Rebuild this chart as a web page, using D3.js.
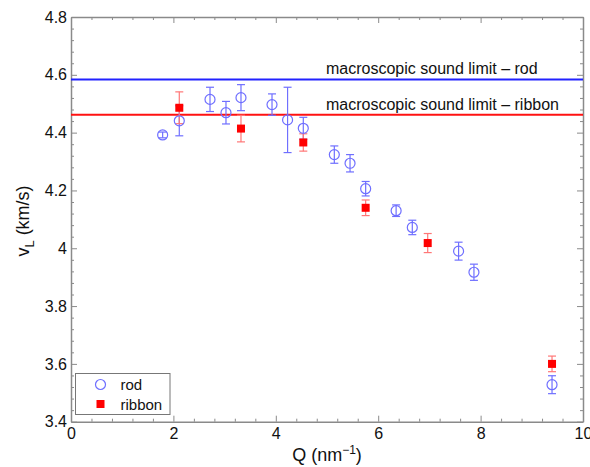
<!DOCTYPE html>
<html>
<head>
<meta charset="utf-8">
<script src="https://cdn.jsdelivr.net/npm/d3@7"></script>
<style>
  html, body { margin: 0; padding: 0; background: #fff; }
  svg { display: block; font-family: "Liberation Sans", Arial, Helvetica, sans-serif; }
</style>
</head>
<body>
<svg id="chart" width="590" height="467"></svg>
<script>
// Longitudinal sound velocity vs momentum transfer
const rodQ   = [1.79, 2.115, 2.715, 3.027, 3.32, 3.926, 4.23, 4.537, 5.143, 5.45, 5.755, 6.35, 6.666, 7.57, 7.87, 9.395];
const rodV   = [4.392, 4.441, 4.515, 4.469, 4.521, 4.497, 4.444, 4.415, 4.324, 4.294, 4.206, 4.130, 4.072, 3.990, 3.917, 3.528];
const rodErr = [0.010, 0.052, 0.042, 0.039, 0.045, 0.037, 0.113, 0.038, 0.030, 0.030, 0.025, 0.020, 0.025, 0.031, 0.028, 0.031];

const ribbonQ   = [2.115, 3.32, 4.537, 5.755, 6.967, 9.395];
const ribbonV   = [4.486, 4.414, 4.366, 4.140, 4.018, 3.600];
const ribbonErr = [0.055, 0.046, 0.030, 0.027, 0.033, 0.027];

const limitNames  = ["macroscopic sound limit \u2013 rod", "macroscopic sound limit \u2013 ribbon"];
const limitValues = [4.584, 4.462];

const xTicks = [0, 2, 4, 6, 8, 10];
const yTicks = [3.4, 3.6, 3.8, 4.0, 4.2, 4.4, 4.6, 4.8];
const legendNames = ["rod", "ribbon"];

const svg = d3.select("#chart");
const plotL = 71, plotR = 583, plotT = 17, plotB = 421.7;

const x = d3.scaleLinear().domain([0, 10]).range([plotL, plotR]);
const y = d3.scaleLinear().domain([3.4, 4.8]).range([plotB, plotT]);

const frameColor = "#8a8a8a";
const rodColor = "#6f6fff";
const ribbonColor = "#ff0000";
const ribbonErrColor = "#ff7777";

const xMinor = d3.range(0, 10.0001, 0.4).filter(v => Math.abs(v / 2 - Math.round(v / 2)) > 1e-6);
const yMinor = d3.range(3.4, 4.8001, 0.04).filter(v => Math.abs((v - 3.4) / 0.2 - Math.round((v - 3.4) / 0.2)) > 1e-6);

const fmt = d => String(+d.toFixed(1));

function styleAxis(g) {
  g.select(".domain").attr("stroke", frameColor).attr("stroke-width", 1.5);
  g.selectAll(".tick line").attr("stroke", frameColor).attr("stroke-width", 1);
  g.selectAll(".tick text").attr("fill", "#111").attr("font-size", 16)
    .attr("font-family", "Liberation Sans, Arial, sans-serif");
}
function styleMinor(g) {
  g.select(".domain").remove();
  g.selectAll(".tick line").attr("stroke", frameColor);
}

// Bottom axis, ticks pointing inward
svg.append("g").attr("transform", `translate(0,${plotB})`)
  .call(d3.axisBottom(x).tickValues(xTicks).tickFormat(fmt).tickSizeInner(-6).tickSizeOuter(0).tickPadding(6))
  .call(styleAxis);
svg.append("g").attr("transform", `translate(0,${plotB})`)
  .call(d3.axisBottom(x).tickValues(xMinor).tickFormat("").tickSizeInner(-3).tickSizeOuter(0))
  .call(styleMinor);

// Top axis
svg.append("g").attr("transform", `translate(0,${plotT})`)
  .call(d3.axisTop(x).tickValues(xTicks).tickFormat("").tickSizeInner(-6).tickSizeOuter(0))
  .call(styleAxis);
svg.append("g").attr("transform", `translate(0,${plotT})`)
  .call(d3.axisTop(x).tickValues(xMinor).tickFormat("").tickSizeInner(-3).tickSizeOuter(0))
  .call(styleMinor);

// Left axis
svg.append("g").attr("transform", `translate(${plotL},0)`)
  .call(d3.axisLeft(y).tickValues(yTicks).tickFormat(fmt).tickSizeInner(-6).tickSizeOuter(0).tickPadding(4))
  .call(styleAxis);
svg.append("g").attr("transform", `translate(${plotL},0)`)
  .call(d3.axisLeft(y).tickValues(yMinor).tickFormat("").tickSizeInner(-3).tickSizeOuter(0))
  .call(styleMinor);

// Right axis
svg.append("g").attr("transform", `translate(${plotR},0)`)
  .call(d3.axisRight(y).tickValues(yTicks).tickFormat("").tickSizeInner(-6).tickSizeOuter(0))
  .call(styleAxis);
svg.append("g").attr("transform", `translate(${plotR},0)`)
  .call(d3.axisRight(y).tickValues(yMinor).tickFormat("").tickSizeInner(-3).tickSizeOuter(0))
  .call(styleMinor);

// Axis titles
svg.append("text")
  .attr("x", x(5.0)).attr("y", 461)
  .attr("text-anchor", "middle").attr("font-size", 18).attr("fill", "#111")
  .call(t => {
    t.append("tspan").text("Q (nm");
    t.append("tspan").attr("dy", -7).attr("font-size", 12).text("\u22121");
    t.append("tspan").attr("dy", 7).text(")");
  });

svg.append("text")
  .attr("transform", `translate(28.5,221) rotate(-90)`)
  .attr("text-anchor", "middle").attr("font-size", 18).attr("fill", "#111")
  .call(t => {
    t.append("tspan").text("v");
    t.append("tspan").attr("dy", 5).attr("font-size", 13).text("L");
    t.append("tspan").attr("dy", -5).text(" (km/s)");
  });

// Macroscopic sound limits
const limitColors = ["#2222ff", "#ff1111"];
limitValues.forEach((v, i) => {
  svg.append("line")
    .attr("x1", plotL).attr("x2", plotR)
    .attr("y1", y(v)).attr("y2", y(v))
    .attr("stroke", limitColors[i]).attr("stroke-width", 2);
  svg.append("text")
    .attr("x", 326).attr("y", y(v) - 5)
    .attr("font-size", 16).attr("fill", "#111")
    .text(limitNames[i]);
});

// Error bars
function errorBars(qs, vs, es, color) {
  const g = svg.append("g").attr("stroke", color).attr("stroke-width", 1.2).attr("fill", "none");
  qs.forEach((q, i) => {
    const cx = x(q), y0 = y(vs[i] - es[i]), y1 = y(vs[i] + es[i]);
    g.append("line").attr("x1", cx).attr("x2", cx).attr("y1", y0).attr("y2", y1);
    g.append("line").attr("x1", cx - 4).attr("x2", cx + 4).attr("y1", y0).attr("y2", y0);
    g.append("line").attr("x1", cx - 4).attr("x2", cx + 4).attr("y1", y1).attr("y2", y1);
  });
}

errorBars(rodQ, rodV, rodErr, rodColor);
errorBars(ribbonQ, ribbonV, ribbonErr, ribbonErrColor);

// Rod markers: open circles
svg.append("g").selectAll("circle").data(rodQ).join("circle")
  .attr("cx", d => x(d)).attr("cy", (d, i) => y(rodV[i]))
  .attr("r", 5).attr("fill", "none").attr("stroke", rodColor).attr("stroke-width", 1.2);

// Ribbon markers: filled squares
svg.append("g").selectAll("rect").data(ribbonQ).join("rect")
  .attr("x", d => x(d) - 4).attr("y", (d, i) => y(ribbonV[i]) - 4)
  .attr("width", 8).attr("height", 8).attr("fill", ribbonColor);

// Legend
const lg = svg.append("g");
lg.append("rect").attr("x", 75.5).attr("y", 373.5).attr("width", 94.5).attr("height", 41)
  .attr("fill", "#fff").attr("stroke", "#777").attr("stroke-width", 1);
lg.append("circle").attr("cx", 100.5).attr("cy", 384.5).attr("r", 5)
  .attr("fill", "none").attr("stroke", rodColor).attr("stroke-width", 1.2);
lg.append("rect").attr("x", 96.5).attr("y", 400).attr("width", 8).attr("height", 8).attr("fill", ribbonColor);
legendNames.forEach((n, i) => {
  lg.append("text").attr("x", 120.5).attr("y", 390 + i * 19.5)
    .attr("font-size", 15).attr("fill", "#111").text(n);
});
</script>
</body>
</html>
